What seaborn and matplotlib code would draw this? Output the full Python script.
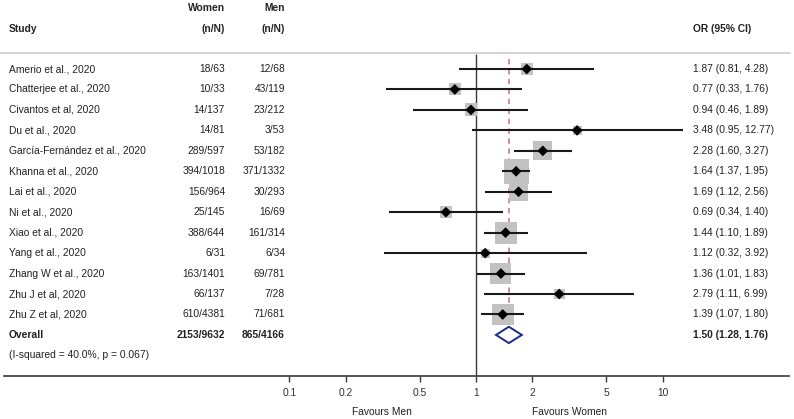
import numpy as np
import pandas as pd
import matplotlib
matplotlib.use("Agg")
import matplotlib.pyplot as plt
import matplotlib.transforms as mtransforms
from matplotlib.patches import Polygon
import seaborn as sns

# Daten
studies = ["Amerio et al., 2020", "Chatterjee et al., 2020", "Civantos et al, 2020",
           "Du et al., 2020", "García-Fernández et al., 2020", "Khanna et al., 2020",
           "Lai et al., 2020", "Ni et al., 2020", "Xiao et al., 2020", "Yang et al., 2020",
           "Zhang W et al., 2020", "Zhu J et al, 2020", "Zhu Z et al, 2020"]
women = ["18/63", "10/33", "14/137", "14/81", "289/597", "394/1018", "156/964",
         "25/145", "388/644", "6/31", "163/1401", "66/137", "610/4381"]
men = ["12/68", "43/119", "23/212", "3/53", "53/182", "371/1332", "30/293",
       "16/69", "161/314", "6/34", "69/781", "7/28", "71/681"]
or_vals = [1.87, 0.77, 0.94, 3.48, 2.28, 1.64, 1.69, 0.69, 1.44, 1.12, 1.36, 2.79, 1.39]
ci_low = [0.81, 0.33, 0.46, 0.95, 1.60, 1.37, 1.12, 0.34, 1.10, 0.32, 1.01, 1.11, 1.07]
ci_high = [4.28, 1.76, 1.89, 12.77, 3.27, 1.95, 2.56, 1.40, 1.89, 3.92, 1.83, 6.99, 1.80]
weights = [4.0, 4.0, 4.6, 2.2, 9.9, 17.2, 9.9, 4.0, 13.3, 2.2, 12.1, 3.3, 13.3]

overall_women = "2153/9632"
overall_men = "865/4166"
overall_or, overall_lo, overall_hi = 1.50, 1.28, 1.76
het_text = "(I-squared = 40.0%, p = 0.067)"
ticks = [0.1, 0.2, 0.5, 1, 2, 5, 10]

df = pd.DataFrame({"study": studies, "OR": or_vals, "lo": ci_low, "hi": ci_high,
                   "w": weights})
df["row"] = np.arange(len(df))
# Quadratseite ~ sqrt(Gewicht), in Punkte^2 fuer scatter
df["sq"] = (6.0 * np.sqrt(df["w"]) * 0.72) ** 2

W, H = 794, 419
sns.set_theme(style="white")
plt.rcParams["font.family"] = ["Liberation Sans", "DejaVu Sans"]
fs = 7.4
txt_col = "#222222"

fig = plt.figure(figsize=(W / 100, H / 100), dpi=100)
ax = fig.add_axes([4 / W, 0, 785 / W, 1])
ax.set_xscale("log")
ax.set_xlim(10 ** ((4 - 476) / 186.7), 10 ** ((789 - 476) / 186.7))
ax.set_ylim(17.11, -3.374)

n = len(df)
row_overall = n
row_het = n + 1
row_axis = n + 2

# Trennlinie oben, Nulllinie, gestrichelte Linie beim Gesamteffekt
trans_fig_data = mtransforms.blended_transform_factory(fig.transFigure, ax.transData)
ax.plot([0, 790 / W], [-0.78, -0.78], color="#cccccc", lw=1.2, transform=trans_fig_data,
        clip_on=False)
ax.vlines(1, -0.75, row_axis, color="#3a3a3a", lw=1.0)
ax.vlines(overall_or, -0.5, 13.4, color="#c8707a", lw=1.1, linestyles=(0, (3.5, 3)))

# Gewichtsquadrate
sns.scatterplot(data=df, x="OR", y="row", size="sq", sizes=(df["sq"].min(), df["sq"].max()),
                marker="s", color="#c2c2c2", edgecolor="none", legend=False, ax=ax, zorder=2)
ax.hlines(df["row"], df["lo"], df["hi"], color="#1a1a1a", lw=1.5, zorder=3)
sns.scatterplot(data=df, x="OR", y="row", marker="D", s=30, color="black",
                edgecolor="none", legend=False, ax=ax, zorder=4)

# Raute fuer Gesamteffekt
dia = Polygon([(overall_lo, row_overall), (overall_or, row_overall - 0.4),
               (overall_hi, row_overall), (overall_or, row_overall + 0.4)],
              closed=True, facecolor="white", edgecolor="#1c2a8a", lw=1.4, zorder=5)
ax.add_patch(dia)

# Achse
for s in ["top", "left", "right"]:
    ax.spines[s].set_visible(False)
ax.spines["bottom"].set_position(("data", row_axis))
ax.spines["bottom"].set_color("#3a3a3a")
ax.spines["bottom"].set_linewidth(1.2)
ax.set_xticks(ticks)
ax.set_xticklabels([f"{t:g}" for t in ticks])
ax.xaxis.set_minor_locator(matplotlib.ticker.NullLocator())
ax.tick_params(axis="x", which="major", direction="out", length=4.5, width=1,
               color="#3a3a3a", labelsize=fs, labelcolor="#333333", pad=4, bottom=True)
ax.set_yticks([])
ax.set_xlabel("")
ax.set_ylabel("")

# Tabellentext
def put(xpx, row, s, ha="left", bold=False):
    ax.text(xpx / W, row, s, transform=trans_fig_data, ha=ha, va="center", fontsize=fs,
            color=txt_col, fontweight="bold" if bold else "normal")

put(225, -2.98, "Women", ha="right", bold=True)
put(285, -2.98, "Men", ha="right", bold=True)
put(9, -1.96, "Study", bold=True)
put(225, -1.96, "(n/N)", ha="right", bold=True)
put(285, -1.96, "(n/N)", ha="right", bold=True)
put(693, -1.96, "OR (95% CI)", bold=True)

for i in range(n):
    put(9, i, studies[i])
    put(225, i, women[i], ha="right")
    put(285, i, men[i], ha="right")
    put(693, i, f"{or_vals[i]:.2f} ({ci_low[i]:.2f}, {ci_high[i]:.2f})")

put(9, row_overall, "Overall", bold=True)
put(225, row_overall, overall_women, ha="right", bold=True)
put(285, row_overall, overall_men, ha="right", bold=True)
put(693, row_overall, f"{overall_or:.2f} ({overall_lo:.2f}, {overall_hi:.2f})", bold=True)
put(9, row_het, het_text)

put(382, 16.77, "Favours Men", ha="center")
put(569, 16.77, "Favours Women", ha="center")

fig.savefig("out.png", dpi=100)
